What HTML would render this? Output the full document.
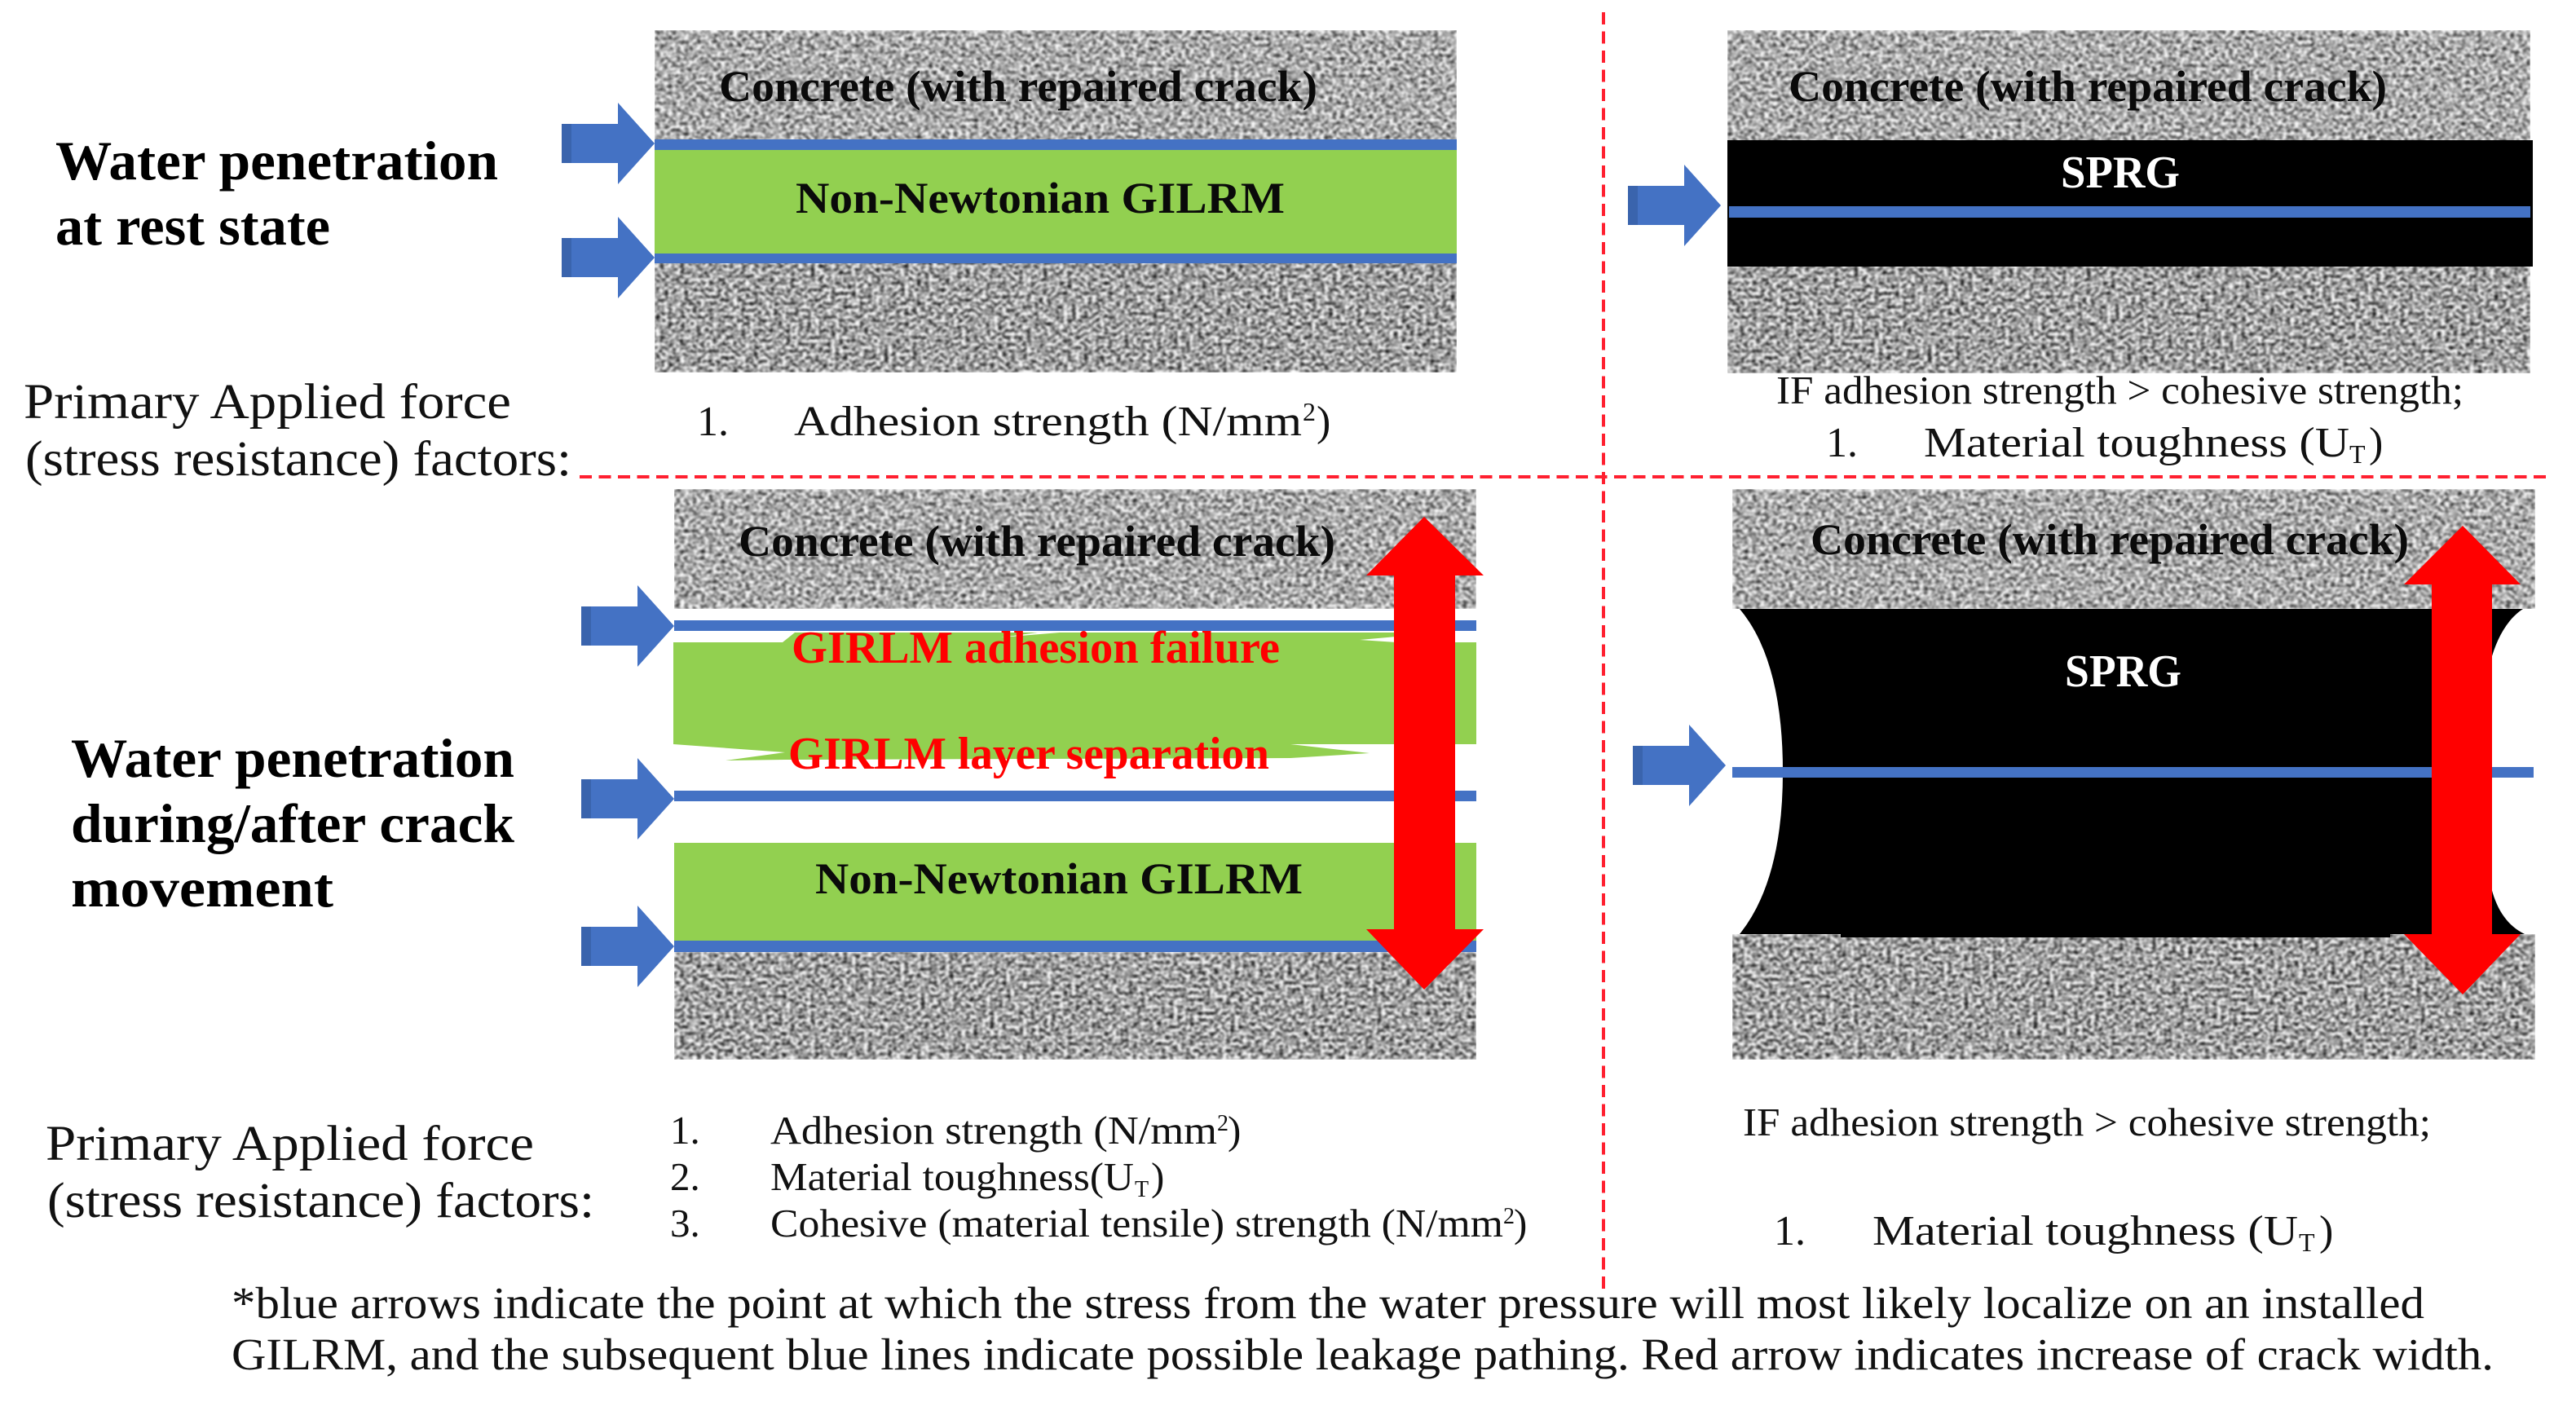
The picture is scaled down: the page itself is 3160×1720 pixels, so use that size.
<!DOCTYPE html>
<html><head><meta charset="utf-8"><title>Water penetration diagram</title>
<style>
html,body{margin:0;padding:0;background:#fff;width:3160px;height:1720px;overflow:hidden}
svg{display:block}
text{font-family:"Liberation Serif",serif;fill:#111}
.b{font-weight:bold}
.h{font-weight:bold;font-size:68px;fill:#000}
.p{font-size:61px}
.l{font-size:49px}
.f{font-size:55px}
.c{font-weight:bold;font-size:54px;fill:#0a0a0a}
.r{font-weight:bold;font-size:56px;fill:#ff0000}
.w{font-weight:bold;font-size:56px;fill:#fff}
.m{font-size:52px}
</style></head><body>
<svg xmlns="http://www.w3.org/2000/svg" width="3160" height="1720" viewBox="0 0 3160 1720">
<defs>
<filter id="n" x="0" y="0" width="100%" height="100%" color-interpolation-filters="sRGB">
<feTurbulence type="fractalNoise" baseFrequency="0.2 0.24" numOctaves="2" seed="7"/>
<feColorMatrix type="matrix" values="1.9 0 0 0 -0.28  1.9 0 0 0 -0.28  1.9 0 0 0 -0.28  0 0 0 0 1"/>
<feGaussianBlur stdDeviation="1.2"/>
</filter>
<filter id="d" x="0" y="0" width="100%" height="100%" color-interpolation-filters="sRGB">
<feTurbulence type="fractalNoise" baseFrequency="0.2 0.24" numOctaves="2" seed="11"/>
<feColorMatrix type="matrix" values="2.1 0 0 0 -0.42  2.1 0 0 0 -0.42  2.1 0 0 0 -0.42  0 0 0 0 1"/>
<feGaussianBlur stdDeviation="1.2"/>
</filter>
<g id="arr"><path d="M0 -24 H69 V-50 L114 0 L69 50 V24 H0 Z" fill="#4472c4"/><rect x="0" y="-24" width="12" height="48" fill="#3a64ad"/></g>
</defs>

<!-- concrete -->
<rect x="803" y="37" width="984" height="140" fill="#a8a8a8" filter="url(#n)"/>
<rect x="803" y="318" width="984" height="139" fill="#a0a0a0" filter="url(#d)"/>
<rect x="2119" y="37" width="985" height="140" fill="#a8a8a8" filter="url(#n)"/>
<rect x="2119" y="322" width="985" height="136" fill="#a0a0a0" filter="url(#d)"/>
<rect x="827" y="600" width="984" height="147" fill="#a8a8a8" filter="url(#n)"/>
<rect x="827" y="1168" width="984" height="132" fill="#a0a0a0" filter="url(#d)"/>
<rect x="2125" y="600" width="985" height="147" fill="#a8a8a8" filter="url(#n)"/>
<rect x="2125" y="1146" width="985" height="154" fill="#a0a0a0" filter="url(#d)"/>

<!-- panel A -->
<rect x="803" y="184" width="984" height="127" fill="#92d050"/>
<rect x="803" y="171" width="984" height="13" fill="#4472c4"/>
<rect x="803" y="311" width="984" height="12" fill="#4472c4"/>
<use href="#arr" x="689" y="176"/>
<use href="#arr" x="689" y="316"/>

<!-- panel B -->
<rect x="2119" y="172" width="988" height="155" fill="#000"/>
<rect x="2121" y="253" width="983" height="14" fill="#4472c4"/>
<use href="#arr" x="1997" y="252"/>

<!-- panel C -->
<path d="M826 788 H960 L975 776 H1273 L1228 782 L1300 776 H1713 V781 L1668 785 L1713 788 H1811 V913 H1583 L1680 924 L1583 930 L963 932 L890 933 L963 923 L826 913 Z" fill="#92d050"/>
<rect x="827" y="1034" width="984" height="120" fill="#92d050"/>
<rect x="827" y="761" width="984" height="13" fill="#4472c4"/>
<rect x="827" y="970" width="984" height="13" fill="#4472c4"/>
<rect x="827" y="1154" width="984" height="14" fill="#4472c4"/>
<use href="#arr" x="713" y="768"/>
<use href="#arr" x="713" y="980"/>
<use href="#arr" x="713" y="1161"/>
<path d="M1747 634 L1820 706 H1785 V1140 H1820 L1747 1214 L1676 1140 H1710 V706 H1676 Z" fill="#ff0000"/>

<!-- panel D -->
<path d="M2134 747 H3095 C3075 760 3062 785 3055 812 L3050 947 L3055 1085 C3062 1115 3075 1135 3097 1146 L2932 1146 V1150 H2258 V1146 H2134 Q2187 1080 2187 947 Q2187 810 2134 747 Z" fill="#000"/>
<rect x="2125" y="941" width="983" height="13" fill="#4472c4"/>
<use href="#arr" x="2003" y="939"/>
<path d="M3021 645 L3092 717 H3057 V1146 H3092 L3021 1220 L2949 1146 H2983 V717 H2949 Z" fill="#ff0000"/>

<!-- dashes -->
<line x1="1967" y1="15" x2="1967" y2="1583" stroke="#ff2030" stroke-width="4" stroke-dasharray="15 8.5"/>
<line x1="711" y1="585" x2="3130" y2="585" stroke="#ff2030" stroke-width="4" stroke-dasharray="15 8.5"/>

<!-- left headers -->
<text class="h" x="68" y="220" textLength="543" lengthAdjust="spacingAndGlyphs">Water penetration</text>
<text class="h" x="68" y="300" textLength="337" lengthAdjust="spacingAndGlyphs">at rest state</text>
<text class="p" x="29" y="513" textLength="598" lengthAdjust="spacingAndGlyphs">Primary Applied force</text>
<text class="p" x="31" y="583" textLength="670" lengthAdjust="spacingAndGlyphs">(stress resistance) factors:</text>
<text class="h" x="87" y="953" textLength="544" lengthAdjust="spacingAndGlyphs">Water penetration</text>
<text class="h" x="87" y="1033" textLength="544" lengthAdjust="spacingAndGlyphs">during/after crack</text>
<text class="h" x="87" y="1112" textLength="322" lengthAdjust="spacingAndGlyphs">movement</text>
<text class="p" x="56" y="1423" textLength="599" lengthAdjust="spacingAndGlyphs">Primary Applied force</text>
<text class="p" x="58" y="1493" textLength="671" lengthAdjust="spacingAndGlyphs">(stress resistance) factors:</text>

<!-- labels -->
<text class="c" x="882" y="124" textLength="734" lengthAdjust="spacingAndGlyphs">Concrete (with repaired crack)</text>
<text class="c" x="976" y="261" textLength="600" lengthAdjust="spacingAndGlyphs">Non-Newtonian GILRM</text>
<text class="m" x="855" y="534">1.</text>
<text class="m" x="974" y="534" textLength="623" lengthAdjust="spacingAndGlyphs">Adhesion strength (N/mm</text>
<text style="font-size:32px" x="1598" y="516">2</text>
<text class="m" x="1615" y="534">)</text>

<text class="c" x="2194" y="124" textLength="734" lengthAdjust="spacingAndGlyphs">Concrete (with repaired crack)</text>
<text class="w" x="2528" y="230" textLength="146" lengthAdjust="spacingAndGlyphs">SPRG</text>
<text class="l" x="2179" y="495" textLength="843" lengthAdjust="spacingAndGlyphs">IF adhesion strength &gt; cohesive strength;</text>
<text class="m" x="2240" y="560">1.</text>
<text class="m" x="2360" y="560" textLength="522" lengthAdjust="spacingAndGlyphs">Material toughness (U</text>
<text style="font-size:32px" x="2882" y="568">T</text>
<text class="m" x="2906" y="560">)</text>

<text class="c" x="906" y="682" textLength="732" lengthAdjust="spacingAndGlyphs">Concrete (with repaired crack)</text>
<text class="r" x="971" y="813" textLength="599" lengthAdjust="spacingAndGlyphs">GIRLM adhesion failure</text>
<text class="r" x="967" y="943" textLength="590" lengthAdjust="spacingAndGlyphs">GIRLM layer separation</text>
<text class="c" x="1000" y="1096" textLength="598" lengthAdjust="spacingAndGlyphs">Non-Newtonian GILRM</text>

<text class="c" x="2221" y="680" textLength="734" lengthAdjust="spacingAndGlyphs">Concrete (with repaired crack)</text>
<text class="w" x="2533" y="842" textLength="143" lengthAdjust="spacingAndGlyphs">SPRG</text>

<!-- lists -->
<text class="l" x="822" y="1403">1.</text>
<text class="l" x="945" y="1403" textLength="548" lengthAdjust="spacingAndGlyphs">Adhesion strength (N/mm</text>
<text style="font-size:28px" x="1493" y="1387">2</text>
<text class="l" x="1506" y="1403">)</text>
<text class="l" x="822" y="1460">2.</text>
<text class="l" x="945" y="1460" textLength="446" lengthAdjust="spacingAndGlyphs">Material toughness(U</text>
<text style="font-size:28px" x="1392" y="1468">T</text>
<text class="l" x="1412" y="1460">)</text>
<text class="l" x="822" y="1517">3.</text>
<text class="l" x="945" y="1517" textLength="899" lengthAdjust="spacingAndGlyphs">Cohesive (material tensile) strength (N/mm</text>
<text style="font-size:28px" x="1844" y="1501">2</text>
<text class="l" x="1857" y="1517">)</text>

<text class="l" x="2138" y="1393" textLength="844" lengthAdjust="spacingAndGlyphs">IF adhesion strength &gt; cohesive strength;</text>
<text class="m" x="2176" y="1527">1.</text>
<text class="m" x="2297" y="1527" textLength="522" lengthAdjust="spacingAndGlyphs">Material toughness (U</text>
<text style="font-size:32px" x="2820" y="1535">T</text>
<text class="m" x="2845" y="1527">)</text>

<!-- footer -->
<text class="f" x="284" y="1617" textLength="2690" lengthAdjust="spacingAndGlyphs">*blue arrows indicate the point at which the stress from the water pressure will most likely localize on an installed</text>
<text class="f" x="284" y="1680" textLength="2775" lengthAdjust="spacingAndGlyphs">GILRM, and the subsequent blue lines indicate possible leakage pathing. Red arrow indicates increase of crack width.</text>
</svg>
</body></html>
